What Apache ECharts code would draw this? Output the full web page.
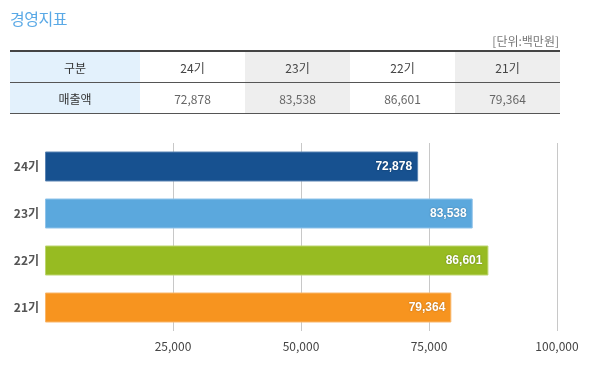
<!DOCTYPE html>
<html><head><meta charset="utf-8">
<script src="https://cdn.jsdelivr.net/npm/echarts@6/dist/echarts.min.js"></script>
<style>
html,body{margin:0;padding:0;background:#fff;width:589px;height:392px;overflow:hidden;font-family:"Noto Sans CJK KR","Noto Sans",sans-serif;}
#title{position:absolute;left:10px;top:7px;font-size:16px;color:#5aa9e6;line-height:22px;letter-spacing:-0.5px;}
#unit{position:absolute;right:30px;top:33px;font-size:12px;color:#777;line-height:16px;}
#tbl{position:absolute;left:10px;top:50px;width:550px;border-collapse:collapse;border-top:2px solid #444;font-size:12px;table-layout:fixed;}
#tbl td{height:30px;padding:0;text-align:center;color:#555;border-bottom:1px solid #555;}
#chart{position:absolute;left:0;top:0;width:589px;height:392px;}
</style></head>
<body>
<div id="chart"></div>
<div id="title">경영지표</div>
<div id="unit">[단위:백만원]</div>
<table id="tbl"><colgroup><col style="width:130px"><col style="width:105px"><col style="width:105px"><col style="width:105px"><col style="width:105px"></colgroup>
<tr id="r1"></tr><tr id="r2"></tr></table>
<script>
var rowHeader = ['구분', '매출액'];
var periods = ['24기', '23기', '22기', '21기'];
var sales = [72878, 83538, 86601, 79364];
var barColors = ['#175190', '#5ba8dd', '#97bb22', '#f7941f'];
var borderColors = ['#5b84b3', '#8fc3ea', '#bcd56e', '#f9b66a'];
var xTicks = [0, 25000, 50000, 75000, 100000];

function fmt(v){return v.toString().replace(/\B(?=(\d{3})+(?!\d))/g, ',');}
var cellBg = ['#fff', '#eee', '#fff', '#eee'];
var r1 = document.getElementById('r1'), r2 = document.getElementById('r2');
r1.innerHTML = '<td style="background:#e3f1fc;color:#333">' + rowHeader[0] + '</td>' +
  periods.map(function(p,i){return '<td style="background:'+cellBg[i]+';color:#444">'+p+'</td>';}).join('');
r2.innerHTML = '<td style="background:#e3f1fc;color:#333">' + rowHeader[1] + '</td>' +
  sales.map(function(v,i){return '<td style="background:'+cellBg[i]+';color:#666">'+fmt(v)+'</td>';}).join('');

var chart = echarts.init(document.getElementById('chart'), null, {renderer:'canvas'});
chart.setOption({
  animation:false,
  grid:{left:45, right:32, top:143, height:188, containLabel:false},
  xAxis:{type:'value', min:xTicks[0], max:xTicks[xTicks.length-1], interval:xTicks[1]-xTicks[0],
    axisLine:{show:false}, axisTick:{show:false},
    splitLine:{show:true, showMinLine:false, lineStyle:{color:'#c8c8c8', width:1}},
    axisLabel:{showMinLabel:false, color:'#444', fontSize:12, margin:9,
      fontFamily:'"Noto Sans CJK KR","Noto Sans",sans-serif', formatter:function(v){return fmt(v);}}},
  yAxis:{type:'category', data:periods, inverse:true,
    axisLine:{show:false}, axisTick:{show:false}, splitLine:{show:false},
    axisLabel:{color:'#555', fontSize:12, fontWeight:'bold', margin:6,
      fontFamily:'"Noto Sans CJK KR","Noto Sans",sans-serif'}},
  series:[{type:'bar', barWidth:30,
    data:sales.map(function(v,i){return {value:v, itemStyle:{color:barColors[i], borderColor:borderColors[i], borderWidth:1}};}),
    label:{show:true, position:'insideRight', distance:6, color:'#fff', fontSize:12, fontWeight:'bold',
      fontFamily:'"Liberation Sans",Arial,sans-serif', formatter:function(p){return fmt(p.value);},
      textShadowColor:'rgba(0,0,0,0.3)', textShadowBlur:2}
  }]
});
</script>
</body></html>
